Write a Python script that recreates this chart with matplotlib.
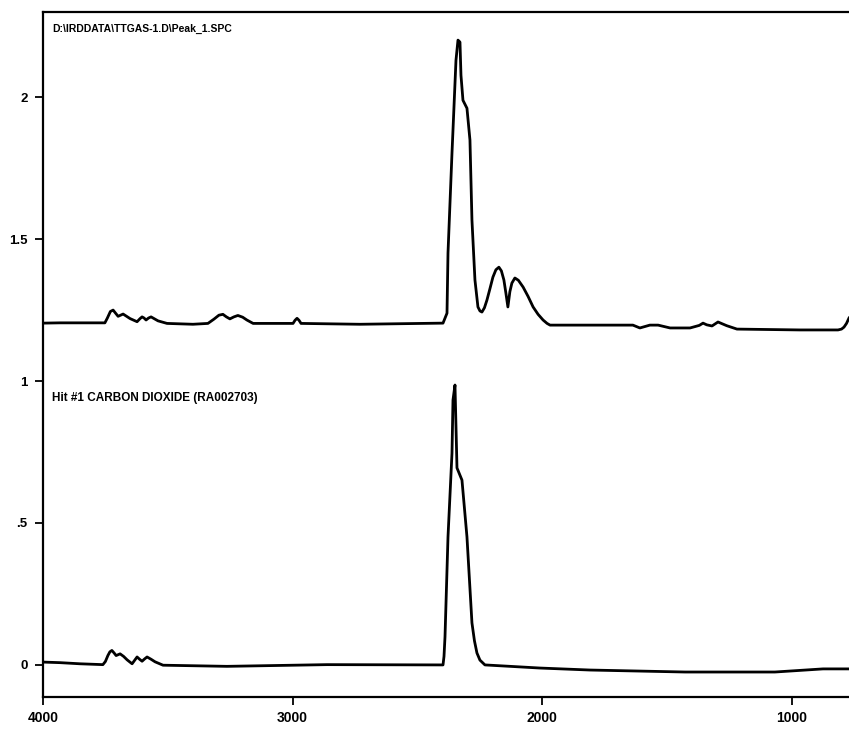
import matplotlib.pyplot as plt

# upper trace: sample spectrum (wavenumber, absorbance)
sample_wn = [4000, 3932, 3752, 3742, 3730, 3719, 3710, 3699, 3689, 3679, 3665, 3651, 3623,
             3611, 3603, 3595, 3587, 3577, 3567, 3553, 3539, 3503, 3399, 3339, 3315, 3295,
             3279, 3265, 3251, 3235, 3219, 3200, 3183, 3158, 2998, 2990, 2982, 2974, 2966,
             2730, 2397, 2381, 2377, 2361, 2357, 2345, 2337, 2329, 2325, 2317, 2301, 2289,
             2281, 2269, 2257, 2249, 2241, 2231, 2221, 2209, 2197, 2185, 2173, 2163, 2153,
             2145, 2137, 2129, 2121, 2109, 2095, 2076, 2056, 2036, 2016, 1996, 1980, 1968,
             1636, 1608, 1568, 1535, 1487, 1407, 1370, 1355, 1340, 1319, 1295, 1260, 1219,
             967, 814, 800, 790, 780, 770]
sample_abs = [1.204, 1.205, 1.205, 1.222, 1.245, 1.250, 1.240, 1.228, 1.232, 1.236, 1.228, 1.220,
              1.209, 1.220, 1.226, 1.222, 1.215, 1.222, 1.226, 1.219, 1.212, 1.203, 1.200, 1.203,
              1.218, 1.232, 1.235, 1.226, 1.219, 1.226, 1.231, 1.225, 1.215, 1.203, 1.203, 1.214,
              1.221, 1.214, 1.203, 1.200, 1.204, 1.239, 1.451, 1.803, 1.884, 2.130, 2.201, 2.194,
              2.077, 1.989, 1.961, 1.849, 1.567, 1.356, 1.261, 1.247, 1.243, 1.258, 1.285, 1.325,
              1.366, 1.392, 1.401, 1.388, 1.356, 1.310, 1.261, 1.315, 1.345, 1.363, 1.355, 1.331,
              1.298, 1.261, 1.235, 1.215, 1.203, 1.197, 1.197, 1.187, 1.197, 1.197, 1.187, 1.187,
              1.196, 1.204, 1.198, 1.194, 1.208, 1.195, 1.183, 1.180, 1.180, 1.183, 1.190, 1.203,
              1.222]

# lower trace: library hit
hit_wn = [4000, 3932, 3852, 3760, 3750, 3740, 3732, 3724, 3715, 3707, 3699, 3691, 3677,
          3663, 3643, 3633, 3623, 3613, 3603, 3593, 3583, 3567, 3551, 3519, 3263, 2862,
          2397, 2393, 2389, 2377, 2361, 2357, 2349, 2341, 2321, 2301, 2281, 2271, 2261,
          2249, 2229, 2008, 1808, 1427, 1067, 874, 770]
hit_abs = [0.010, 0.008, 0.004, 0.001, 0.012, 0.033, 0.046, 0.051, 0.042, 0.033, 0.036, 0.039,
           0.030, 0.018, 0.004, 0.016, 0.028, 0.020, 0.013, 0.021, 0.028, 0.020, 0.011, -0.001,
           -0.005, 0.001, 0.0, 0.030, 0.099, 0.451, 0.746, 0.933, 0.986, 0.694, 0.651, 0.451,
           0.148, 0.085, 0.042, 0.017, 0.0, -0.011, -0.018, -0.025, -0.025, -0.014, -0.014]

y_ticks = [0, 0.5, 1, 1.5, 2]
y_tick_labels = ['0', '.5', '1', '1.5', '2']
x_ticks = [4000, 3000, 2000, 1000]
x_tick_labels = ['4000', '3000', '2000', '1000']

plt.rcParams['font.family'] = ['Liberation Sans', 'DejaVu Sans']
plt.rcParams['font.weight'] = 'bold'

fig = plt.figure(figsize=(8.49, 7.30), dpi=100)
ax = fig.add_axes([43 / 849, 33 / 730, 1 - 43 / 849, 685 / 730])

ax.plot(sample_wn, sample_abs, color='black', linewidth=2.0, solid_joinstyle='round')
ax.plot(hit_wn, hit_abs, color='black', linewidth=2.0, solid_joinstyle='round')

ax.set_xlim(4000, 770)
ax.set_ylim(-0.113, 2.3)
ax.set_xticks(x_ticks)
ax.set_xticklabels(x_tick_labels, fontsize=10, fontweight='bold')
ax.set_yticks(y_ticks)
ax.set_yticklabels(y_tick_labels, fontsize=9.5, fontweight='bold')
ax.tick_params(axis='x', direction='out', length=6, width=1.3, pad=4)
ax.tick_params(axis='y', direction='out', length=6, width=1.3, pad=5)

ax.spines['right'].set_visible(False)
for s in ['left', 'bottom', 'top']:
    ax.spines[s].set_linewidth(1.6)

ax.text(0.011, 0.975, 'D:\\IRDDATA\\TTGAS-1.D\\Peak_1.SPC', transform=ax.transAxes,
        fontsize=7.5, fontweight='bold', va='center', ha='left')
ax.text(0.011, 0.437, 'Hit #1 CARBON DIOXIDE (RA002703)', transform=ax.transAxes,
        fontsize=8.5, fontweight='bold', va='center', ha='left')

fig.savefig('out.png', dpi=100)
